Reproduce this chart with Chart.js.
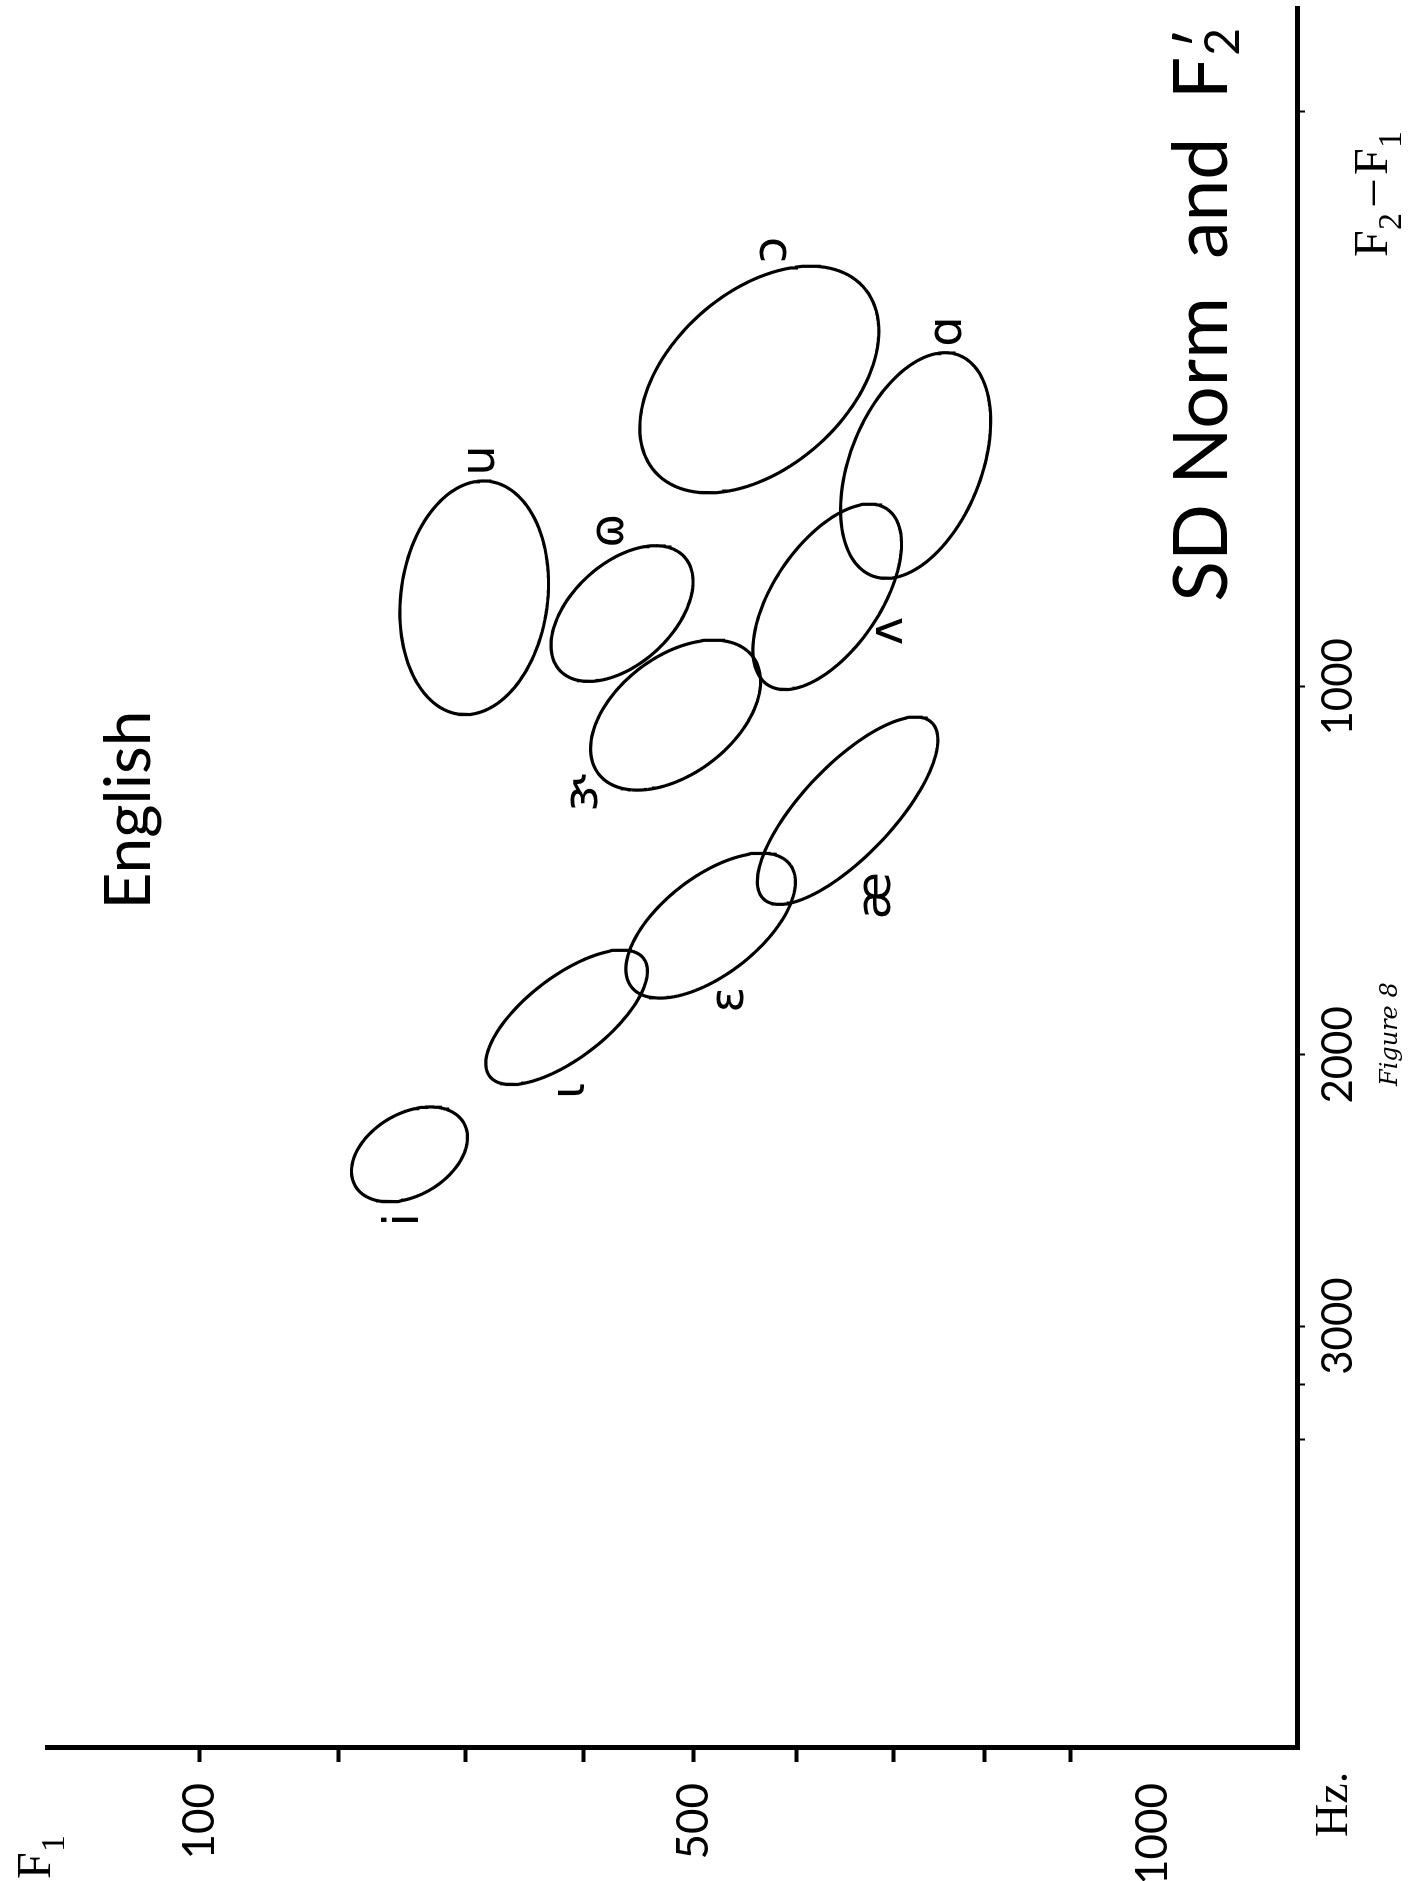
<!DOCTYPE html>
<html>
<head>
<meta charset="utf-8">
<script src="https://cdn.jsdelivr.net/npm/chart.js@4/dist/chart.umd.min.js"></script>
<style>
  html, body { margin: 0; padding: 0; background: #ffffff; }
  body { width: 1412px; height: 1881px; position: relative; overflow: hidden; }
  #wrap {
    position: absolute; left: 0; top: 0;
    width: 1881px; height: 1412px;
    transform-origin: 0 0;
    transform: translate(0px, 1881px) rotate(-90deg);
    background: #ffffff;
  }
  canvas { display: block; }
</style>
</head>
<body>
<div id="wrap"><canvas id="c" width="1881" height="1412"></canvas></div>
<script>
// ---------------- DATA ----------------
const vowels      = ["ɔ", "ɑ", "u", "ɷ", "ʌ", "ɝ", "æ", "ɛ", "ɩ", "i"];
// ellipse centres (Hz)
const centerF1    = [563, 724, 307, 434, 631, 483, 652, 516, 385, 255];
const centerF2F1  = [398, 549, 807, 840, 805, 1065, 1298, 1608, 1881, 2337];
// standard-deviation ellipse: semi-axes in scale units (x1000) and tilt (deg, data space)
const sdMajor     = [86, 72, 71, 52, 65, 60, 75, 62, 60, 39];
const sdMinor     = [54, 41, 46, 31, 33, 36, 28, 30, 25, 25];
const sdAngle     = [129, 157, 172, 130, 144, 125, 135, 126, 126, 118];
// vowel symbol positions (Hz)
const labelF1     = [577, 760, 313, 424, 696, 401, 683, 535, 389, 252];
const labelF2F1   = [193, 319, 540, 672, 877, 1253, 1524, 1827, 2118, 2577];
// axes
const f1Ticks       = [100, 200, 300, 400, 500, 600, 700, 800, 900, 1000];
const f1Labels      = [100, 500, 1000];
const f2f1Ticks     = [0, 1000, 2000, 3000, 3250, 3500];
const f2f1Labels    = [1000, 2000, 3000];
const f1Range       = [0, 1190];
const f2f1Range     = [-129, 5181];

// ---------------- SCALES (formant scale units) ----------------
const KX = 0.6273;
const sy = f => Math.log(f + 1000);          // F1 scale
const sx = f => KX * Math.log(f + 1350);     // F2-F1 scale
const hzY = v => Math.exp(v) - 1000;
const hzX = v => Math.exp(v / KX) - 1350;

function ellipsePoints(i) {
  const cx = sx(centerF2F1[i]), cy = sy(centerF1[i]);
  const a = sdMajor[i] / 1000, b = sdMinor[i] / 1000;
  const t = sdAngle[i] * Math.PI / 180;
  const pts = [];
  for (let k = 0; k <= 120; k++) {
    const p = 2 * Math.PI * k / 120;
    pts.push({
      x: cx + a * Math.cos(p) * Math.cos(t) - b * Math.sin(p) * Math.sin(t),
      y: cy + a * Math.cos(p) * Math.sin(t) + b * Math.sin(p) * Math.cos(t)
    });
  }
  return pts;
}

const datasets = vowels.map((v, i) => ({
  label: v,
  data: ellipsePoints(i),
  showLine: true,
  borderColor: '#000',
  borderWidth: 3.2,
  pointRadius: 0,
  fill: false,
  tension: 0
}));

const textPlugin = {
  id: 'texts',
  afterDraw(chart) {
    const ctx = chart.ctx;
    const xs = chart.scales.x, ys = chart.scales.y;
    const ca = chart.chartArea;
    ctx.save();
    ctx.fillStyle = '#000';
    // vowel symbols
    ctx.font = '48px "DejaVu Sans"';
    ctx.textAlign = 'center';
    ctx.textBaseline = 'middle';
    vowels.forEach((v, i) => {
      ctx.fillText(v, xs.getPixelForValue(sx(labelF2F1[i])), ys.getPixelForValue(sy(labelF1[i])));
    });
    // title
    ctx.textBaseline = 'alphabetic';
    ctx.textAlign = 'left';
    ctx.font = '75px Lato';
    const t1 = 'SD Norm  and  F';
    const w1 = ctx.measureText(t1).width;
    ctx.font = '48px Lato';
    const w2 = ctx.measureText('2').width;
    const right = ca.right - 22;
    const x0 = right - w1 - w2;
    const base = ca.bottom - 70;
    ctx.font = '75px Lato';
    ctx.fillText(t1, x0, base);
    ctx.font = '48px Lato';
    ctx.fillText('2', x0 + w1 + 1, base + 12);
    ctx.font = '64px Lato';
    ctx.textAlign = 'center';
    ctx.fillText('′', x0 + w1 + w2 / 2 + 4, base - 4);
    // language
    ctx.font = '64px Lato';
    ctx.textAlign = 'center';
    ctx.fillText('English', 1071, 150);
    // axis names
    ctx.font = '48px "Liberation Serif"';
    ctx.textAlign = 'left';
    let xx = ca.right - 250, yy = ca.bottom + 90;
    ctx.fillText('F', xx, yy);
    ctx.font = '34px "Liberation Serif"';
    ctx.fillText('2', xx + 27, yy + 14);
    ctx.font = '48px "Liberation Serif"';
    ctx.fillText('–', xx + 52, yy - 2);
    ctx.fillText('F', xx + 82, yy);
    ctx.font = '34px "Liberation Serif"';
    ctx.fillText('1', xx + 109, yy + 14);
    ctx.font = '48px "Liberation Serif"';
    ctx.fillText('F', 2, 50);
    ctx.font = '34px "Liberation Serif"';
    ctx.fillText('1', 29, 64);
    ctx.font = '46px "Liberation Serif"';
    ctx.fillText('Hz.', 44, ca.bottom + 50);
    ctx.font = 'italic 24px "DejaVu Serif"';
    ctx.fillText('Figure 8', 795, ca.bottom + 100);
    ctx.restore();
  }
};

new Chart(document.getElementById('c'), {
  type: 'scatter',
  data: { datasets },
  options: {
    responsive: false,
    devicePixelRatio: 1,
    animation: false,
    layout: { padding: { top: 0, right: 7, left: 0, bottom: 0 } },
    plugins: { legend: { display: false }, tooltip: { enabled: false }, title: { display: false } },
    scales: {
      x: {
        type: 'linear',
        reverse: true,
        min: sx(f2f1Range[0]),
        max: sx(f2f1Range[1]),
        afterBuildTicks: s => { s.ticks = f2f1Ticks.map(f => ({ value: sx(f) })); },
        afterFit: s => { s.height = 115; },
        border: { display: true, color: '#000', width: 5 },
        grid: { drawOnChartArea: false, drawTicks: true, tickLength: 8, tickWidth: 2, color: '#000' },
        ticks: {
          autoSkip: false, maxRotation: 0, padding: 8, color: '#000',
          font: { family: 'Lato', size: 42 },
          callback: v => { const f = Math.round(hzX(v) / 10) * 10; return f2f1Labels.includes(f) ? String(f) : ''; }
        }
      },
      y: {
        type: 'linear',
        reverse: true,
        min: sy(f1Range[0]),
        max: sy(f1Range[1]),
        afterBuildTicks: s => { s.ticks = f1Ticks.map(f => ({ value: sy(f) })); },
        afterFit: s => { s.width = 133; },
        border: { display: true, color: '#000', width: 5 },
        grid: {
          drawOnChartArea: false, drawTicks: true, tickLength: 14, tickWidth: 4,
          color: c => (c.index === f1Ticks.length - 1 ? 'rgba(0,0,0,0)' : '#000')
        },
        ticks: {
          autoSkip: false, padding: 21, color: '#000',
          font: { family: 'Lato', size: 44 },
          callback: v => { const f = Math.round(hzY(v) / 10) * 10; return f1Labels.includes(f) ? String(f) : ''; }
        }
      }
    }
  },
  plugins: [textPlugin]
});
</script>
</body>
</html>
